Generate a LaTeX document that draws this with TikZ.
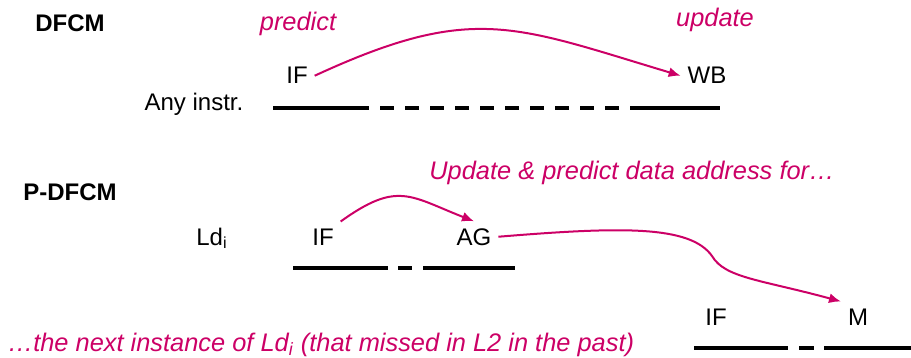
\documentclass[tikz,border=0pt]{standalone}
\usepackage{fontspec}
\setmainfont{Liberation Sans}
\usetikzlibrary{arrows.meta}
\definecolor{hilite}{RGB}{204,0,102}

\begin{document}
\begin{tikzpicture}[x=0.5pt,y=-0.5pt,>={Latex[length=6pt,width=5pt]},
  font=\fontsize{12}{14}\selectfont,
  stage/.style={inner sep=2pt,outer sep=1.5pt,anchor=base},
  lbl/.style={inner sep=0pt,anchor=base},
  note/.style={lbl,text=hilite,font=\fontsize{12.7}{15}\selectfont\itshape},
  flow/.style={->,draw=hilite,line width=1pt},
  bar/.style={line width=2pt},
  gap/.style={bar,dash pattern=on 7pt off 5.5pt}]
\useasboundingbox (0,0) rectangle (911,358);

% DFCM: any instruction
\node[lbl,font=\fontsize{12}{14}\selectfont\bfseries] (dfcm) at (70,32) {DFCM};
\node[note] (pred) at (298,31) {predict};
\node[note] (upd) at (715,27) {update};
\node[lbl] (any) at (194,111) {Any instr.};
\node[stage] (if1) at (297,84) {IF};
\node[stage] (wb) at (707,84) {WB};
\draw[bar] (273,108) -- (355,108);
\draw[gap] (355,108) -- (640,108);
\draw[bar] (640,108) -- (720,108);
\draw[flow] (if1.east) .. controls +(158,-73) and +(-167,-50) .. (wb.west);

% P-DFCM: load Ld_i and its next instance
\node[lbl,font=\fontsize{12}{14}\selectfont\bfseries] (pdfcm) at (70,200) {P-DFCM};
\node[note] (upnote) at (632,180) {Update \& predict data address for…};
\node[lbl] (ld) at (212,245) {Ld\textsubscript{i}};
\node[stage] (if2) at (323,245) {IF};
\node[stage] (ag) at (474,245) {AG};
\draw[bar] (293,268) -- (388,268);
\draw[bar] (398,268) -- (412,268);
\draw[bar] (423,268) -- (515,268);
\draw[flow] (if2.north east) .. controls +(57,-41) and +(-64,-25) .. (ag.north);

\node[note] (nextnote) at (321,351) {…the next instance of Ld\textsubscript{i} (that missed in L2 in the past)};
\node[stage] (if3) at (716,325) {IF};
\node[stage] (mem) at (858,325) {M};
\coordinate (kink) at (712,256);
\draw[bar] (694,348) -- (788,348);
\draw[bar] (799,348) -- (814,348);
\draw[bar] (824,348) -- (911,348);
\draw[flow] (ag.east) .. controls +(122,-10) and +(-22,-31) .. (kink)
  .. controls +(13,22) and +(-81,-22) .. (mem.north west);
\end{tikzpicture}
\end{document}
